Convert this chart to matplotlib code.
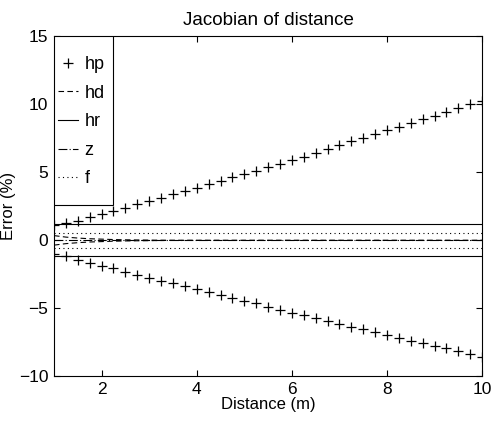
import numpy as np
import matplotlib
matplotlib.use("Agg")
import matplotlib.pyplot as plt
from matplotlib.patches import Rectangle

plt.rcParams['font.family'] = ['Liberation Sans', 'DejaVu Sans']

distance = [1.0, 1.25, 1.5, 1.75, 2.0, 2.25, 2.5, 2.75, 3.0, 3.25, 3.5, 3.75,
            4.0, 4.25, 4.5, 4.75, 5.0, 5.25, 5.5, 5.75, 6.0, 6.25, 6.5, 6.75,
            7.0, 7.25, 7.5, 7.75, 8.0, 8.25, 8.5, 8.75, 9.0, 9.25, 9.5, 9.75, 10.0]

hp_upper = [1.10, 1.27, 1.42, 1.69, 1.93, 2.15, 2.38, 2.67, 2.87, 3.13, 3.38, 3.63,
            3.87, 4.12, 4.36, 4.63, 4.88, 5.12, 5.38, 5.61, 5.93, 6.15, 6.44, 6.71,
            6.99, 7.28, 7.52, 7.82, 8.09, 8.35, 8.60, 8.90, 9.16, 9.43, 9.71, 10.00, 10.24]
hp_lower = [-1.00, -1.17, -1.45, -1.65, -1.87, -2.06, -2.31, -2.53, -2.75, -2.97, -3.16, -3.36,
            -3.60, -3.80, -4.02, -4.22, -4.46, -4.63, -4.88, -5.13, -5.32, -5.51, -5.74, -5.93,
            -6.15, -6.38, -6.54, -6.74, -6.96, -7.21, -7.38, -7.57, -7.77, -7.94, -8.14, -8.36, -8.56]

hd_upper = [0.35, 0.24, 0.17, 0.12, 0.09, 0.06, 0.04, 0.03, 0.02, 0.01, 0.0, 0.0,
            0.0, 0.0, 0.0, 0.0, 0.0, 0.0, 0.0, 0.0, 0.0, 0.0, 0.0, 0.0,
            0.0, 0.0, 0.0, 0.0, 0.0, 0.0, 0.0, 0.0, 0.0, 0.0, 0.0, 0.0, 0.0]
hd_lower = [-0.35, -0.24, -0.17, -0.12, -0.09, -0.06, -0.04, -0.03, -0.02, -0.01, 0.0, 0.0,
            0.0, 0.0, 0.0, 0.0, 0.0, 0.0, 0.0, 0.0, 0.0, 0.0, 0.0, 0.0,
            0.0, 0.0, 0.0, 0.0, 0.0, 0.0, 0.0, 0.0, 0.0, 0.0, 0.0, 0.0, 0.0]

hr_bounds = [1.17, -1.17]
z_value = [0.0]
f_bounds = [0.57, -0.57]

x_ticks = [2, 4, 6, 8, 10]
y_ticks = [-10, -5, 0, 5, 10, 15]

fig = plt.figure(figsize=(4.91, 4.22), dpi=100)
ax = fig.add_axes([0.110, 0.108, 0.872, 0.806])

lw = 0.8
ax.plot(distance, hp_upper, linestyle='none', marker='+', color='black',
        markersize=7.5, markeredgewidth=0.9, label='hp')
ax.plot(distance, hp_lower, linestyle='none', marker='+', color='black',
        markersize=7.5, markeredgewidth=0.9)
ax.plot(distance, hd_upper, linestyle=(0, (5, 3)), color='black', lw=lw, label='hd')
ax.plot(distance, hd_lower, linestyle=(0, (5, 3)), color='black', lw=lw)
for i, v in enumerate(hr_bounds):
    ax.plot([distance[0], distance[-1]], [v, v], linestyle='-', color='black', lw=lw,
            label='hr' if i == 0 else None)
ax.plot([distance[0], distance[-1]], [z_value[0], z_value[0]], linestyle=(0, (8, 2, 1, 2)),
        color='black', lw=lw, label='z')
for i, v in enumerate(f_bounds):
    ax.plot([distance[0], distance[-1]], [v, v], linestyle=(0, (1, 3)), color='black', lw=lw,
            label='f' if i == 0 else None)

ax.set_xlim(1, 10)
ax.set_ylim(-10, 15)
ax.set_xticks(x_ticks)
ax.set_yticks(y_ticks)
ax.tick_params(direction='in', top=True, right=True, labelsize=12.5, length=4, width=0.8, pad=4)
for s in ax.spines.values():
    s.set_linewidth(0.8)

ax.set_xlabel('Distance (m)', fontsize=12, labelpad=0)
ax.set_ylabel('Error (%)', fontsize=12)
ax.yaxis.set_label_coords(-0.088, 0.5)
ax.set_title('Jacobian of distance', fontsize=13.5, pad=8)

# legend box (MATLAB style, tall with short handles)
ax.add_patch(Rectangle((0, 0.504), 0.138, 0.496, transform=ax.transAxes,
                       facecolor='white', edgecolor='black', lw=0.8, zorder=4))
leg = ax.legend(loc='upper left', bbox_to_anchor=(0.0, 0.952), borderaxespad=0,
                frameon=False, fontsize=13,
                handlelength=1.15, handletextpad=0.35, labelspacing=0.64,
                borderpad=0.2)
leg.set_zorder(5)

fig.savefig('out.png', dpi=100)
